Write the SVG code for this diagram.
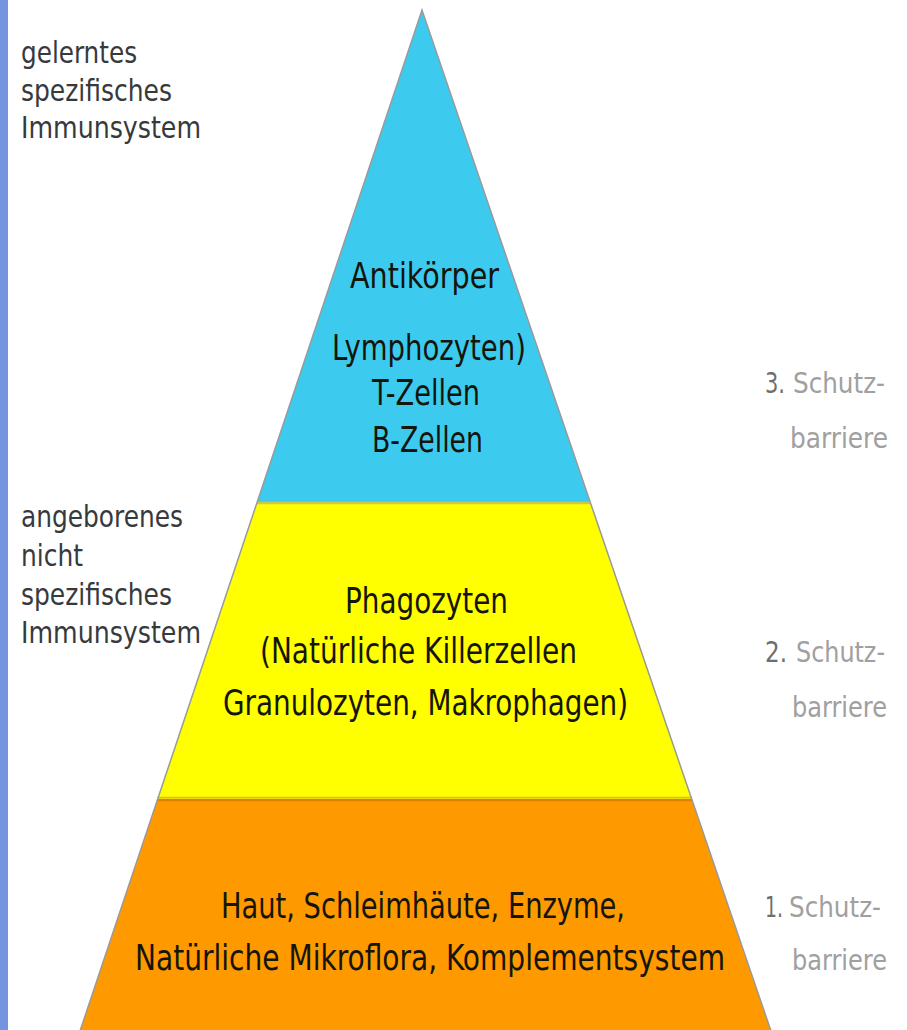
<svg xmlns="http://www.w3.org/2000/svg" width="907" height="1030" viewBox="0 0 907 1030">
<style>
.t{font-family:"Liberation Sans Narrow","DejaVu Sans Condensed","Liberation Sans",sans-serif;}
.side{font-size:31px;fill:#373a3d;}
.mid{font-size:35px;fill:#15150c;}
.num{font-size:29px;fill:#6e6e6e;}
.lbl{font-size:28px;fill:#a0a0a0;}
.edge{fill:none;stroke:#9a9a9a;stroke-width:1.5;}
</style>
<rect x="0" y="0" width="907" height="1030" fill="#ffffff"/>
<rect x="0" y="0" width="8" height="1030" fill="#7494e0"/>

<g id="layer-top">
<polygon points="422,10 590.4,502 257,502" fill="#3ccbee"/>
<text class="t mid" x="350" y="288" textLength="149" lengthAdjust="spacingAndGlyphs">Antikörper</text>
<text class="t mid" x="332" y="360" textLength="194" lengthAdjust="spacingAndGlyphs">Lymphozyten)</text>
<text class="t mid" x="372" y="405" textLength="108" lengthAdjust="spacingAndGlyphs">T-Zellen</text>
<text class="t mid" x="372" y="452" textLength="111" lengthAdjust="spacingAndGlyphs">B-Zellen</text>
</g>

<g id="layer-middle">
<polygon points="257,502 590.4,502 692,799 157.5,799" fill="#ffff00"/>
<line x1="257" y1="503" x2="590.4" y2="503" stroke="#cfc845" stroke-width="2.5"/>
<text class="t mid" x="345" y="613" textLength="163" lengthAdjust="spacingAndGlyphs">Phagozyten</text>
<text class="t mid" x="260" y="663" textLength="317" lengthAdjust="spacingAndGlyphs">(Natürliche Killerzellen</text>
<text class="t mid" x="223" y="715" textLength="405" lengthAdjust="spacingAndGlyphs">Granulozyten, Makrophagen)</text>
</g>

<g id="layer-bottom">
<polygon points="157.5,799 692,799 771,1031 80,1031" fill="#ff9900"/>
<line x1="157.5" y1="800" x2="692" y2="800" stroke="#df8000" stroke-width="2.5"/>
<line x1="157.5" y1="797.5" x2="692" y2="797.5" stroke="#d4c030" stroke-width="1.5"/>
<text class="t mid" x="221" y="918" textLength="404" lengthAdjust="spacingAndGlyphs">Haut, Schleimhäute, Enzyme,</text>
<text class="t mid" x="135" y="970" textLength="590" lengthAdjust="spacingAndGlyphs">Natürliche Mikroflora, Komplementsystem</text>
</g>

<g id="outline">
<polyline class="edge" points="80,1031 422,10 771,1031"/>
</g>

<g id="label-specific">
<text class="t side" x="21" y="63" textLength="116" lengthAdjust="spacingAndGlyphs">gelerntes</text>
<text class="t side" x="21" y="101" textLength="151" lengthAdjust="spacingAndGlyphs">spezifisches</text>
<text class="t side" x="21" y="138" textLength="180" lengthAdjust="spacingAndGlyphs">Immunsystem</text>
</g>

<g id="label-innate">
<text class="t side" x="21" y="527" textLength="162" lengthAdjust="spacingAndGlyphs">angeborenes</text>
<text class="t side" x="21" y="566" textLength="62" lengthAdjust="spacingAndGlyphs">nicht</text>
<text class="t side" x="21" y="605" textLength="151" lengthAdjust="spacingAndGlyphs">spezifisches</text>
<text class="t side" x="21" y="643" textLength="180" lengthAdjust="spacingAndGlyphs">Immunsystem</text>
</g>

<g id="barrier-3">
<text class="t num" x="765" y="393" textLength="20" lengthAdjust="spacingAndGlyphs">3.</text>
<text class="t lbl" x="793" y="393" textLength="92" lengthAdjust="spacingAndGlyphs">Schutz-</text>
<text class="t lbl" x="790" y="448" textLength="98" lengthAdjust="spacingAndGlyphs">barriere</text>
</g>

<g id="barrier-2">
<text class="t num" x="765" y="662" textLength="22" lengthAdjust="spacingAndGlyphs">2.</text>
<text class="t lbl" x="796" y="662" textLength="89" lengthAdjust="spacingAndGlyphs">Schutz-</text>
<text class="t lbl" x="792" y="717" textLength="95" lengthAdjust="spacingAndGlyphs">barriere</text>
</g>

<g id="barrier-1">
<text class="t num" x="765" y="917" textLength="18" lengthAdjust="spacingAndGlyphs">1.</text>
<text class="t lbl" x="789" y="917" textLength="92" lengthAdjust="spacingAndGlyphs">Schutz-</text>
<text class="t lbl" x="792" y="970" textLength="95" lengthAdjust="spacingAndGlyphs">barriere</text>
</g>

<g id="connectors"></g>
</svg>
